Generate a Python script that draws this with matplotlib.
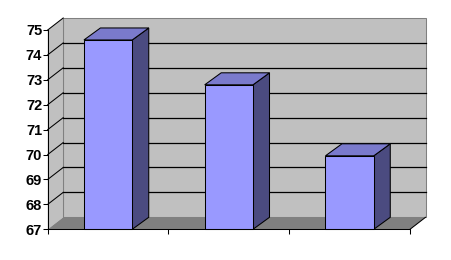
import matplotlib.pyplot as plt
from matplotlib.patches import Polygon

categories = ['1', '2', '3']
values = [74.6, 72.8, 69.95]
y_ticks = [67, 68, 69, 70, 71, 72, 73, 74, 75]

# layout in pixels
W, H = 451, 260
left_px, right_px = 47.7, 410.0
bottom_px, top_px = 229.3, 30.0
wall_dx, wall_dy = 15.5, 12.0
bar_dx, bar_dy = 16.5, 12.0
bar_width = 0.40

fig = plt.figure(figsize=(W / 100, H / 100), dpi=100)
ax = fig.add_axes([left_px / W, 1 - bottom_px / H,
                   (right_px - left_px) / W, (bottom_px - top_px) / H])
n = len(categories)
ymin, ymax = y_ticks[0], y_ticks[-1]
ax.set_xlim(0, n)
ax.set_ylim(ymin, ymax)
ax.patch.set_visible(False)

ux = n / (right_px - left_px)
uy = (ymax - ymin) / (bottom_px - top_px)
wdx, wdy = wall_dx * ux, wall_dy * uy
bdx, bdy = bar_dx * ux, bar_dy * uy

def poly(pts, fc, ec='none', z=1, lw=0.75):
    ax.add_patch(Polygon(pts, closed=True, facecolor=fc, edgecolor=ec,
                         linewidth=lw, zorder=z, clip_on=False))

# walls and floor
poly([(wdx, ymin + wdy), (n + wdx, ymin + wdy), (n + wdx, ymax + wdy), (wdx, ymax + wdy)],
     '#c0c0c0', '#808080', z=0.5)
poly([(0, ymin), (wdx, ymin + wdy), (wdx, ymax + wdy), (0, ymax)], '#c0c0c0', z=0.6)
poly([(0, ymin), (n, ymin), (n + wdx, ymin + wdy), (wdx, ymin + wdy)], '#808080', z=0.7)
ax.plot([wdx, wdx], [ymin + wdy, ymax + wdy], color='#808080', lw=0.75, zorder=0.8, clip_on=False)

# gridlines
for v in y_ticks[1:]:
    if v < ymax:
        ax.plot([wdx, n + wdx], [v + wdy, v + wdy], color='black', lw=0.9, zorder=1, clip_on=False)
    ax.plot([0, wdx], [v, v + wdy], color='black', lw=0.75, zorder=1, clip_on=False)
ax.plot([n, n + wdx], [ymin, ymin + wdy], color='black', lw=0.75, zorder=1, clip_on=False)

# bars
for i, v in enumerate(values):
    x0 = i + 0.5 - bar_width / 2
    x1 = x0 + bar_width
    poly([(x1, ymin), (x1 + bdx, ymin + bdy), (x1 + bdx, v + bdy), (x1, v)], '#4b4b80', 'black', z=2)
    poly([(x0, v), (x1, v), (x1 + bdx, v + bdy), (x0 + bdx, v + bdy)], '#7a7acc', 'black', z=2)
    poly([(x0, ymin), (x1, ymin), (x1, v), (x0, v)], '#9999ff', 'black', z=2)

for s in ['top', 'right']:
    ax.spines[s].set_visible(False)
for s in ['left', 'bottom']:
    ax.spines[s].set_linewidth(0.75)
    ax.spines[s].set_zorder(3)

ax.set_xticks(range(n + 1))
ax.set_xticklabels([])
ax.set_yticks(y_ticks)
ax.set_yticklabels([str(t) for t in y_ticks],
                   fontdict={'family': ['Liberation Sans Narrow', 'Liberation Sans'],
                             'weight': 'bold', 'size': 10.5})
ax.tick_params(axis='both', length=3.5, width=0.75, direction='out', pad=0.5)

fig.savefig('out.png', dpi=100)
